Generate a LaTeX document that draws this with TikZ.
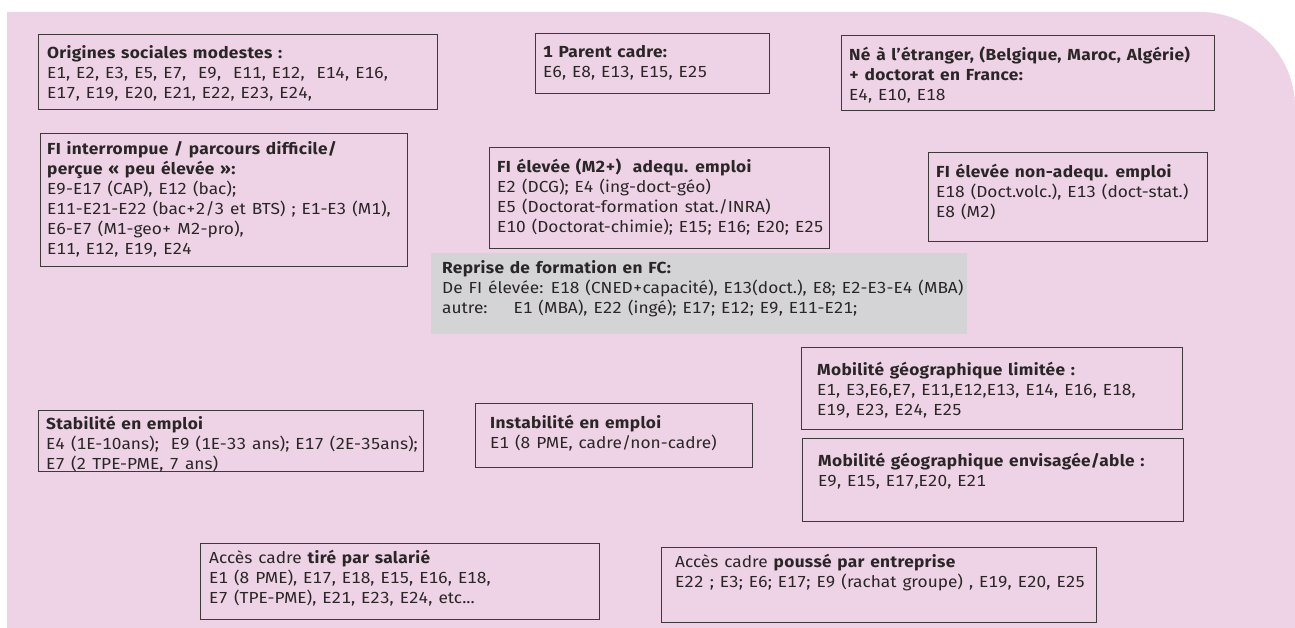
\documentclass[tikz,border=0pt]{standalone}
\usepackage{fontspec}
\setmainfont{Fira Sans}[FakeStretch=1.08,Numbers=Monospaced,WordSpace=1.3,BoldFeatures={LetterSpace=2}]
\definecolor{pinkbg}{HTML}{EDD3E5}
\definecolor{greybg}{HTML}{D4D4D6}
\definecolor{boxline}{HTML}{3E3A3C}
\definecolor{ink}{HTML}{2A2627}

\begin{document}
\begin{tikzpicture}[x=1pt,y=-1pt]
	\tikzstyle{frame}=[draw=boxline,line width=1.2pt,anchor=north west,inner sep=0pt]
	\tikzstyle{greyframe}=[frame,draw=none,fill=greybg]
	\tikzstyle{boxtext}=[anchor=north west,inner sep=0pt,align=left,text=ink,font=\fontsize{16}{20}\selectfont]
	\useasboundingbox (0,0) rectangle (1295,628);
	\fill[pinkbg] (7,628) -- (7,12) -- (1200,12) .. controls (1252,12) and (1295,55) .. (1295,107) -- (1295,628) -- cycle;
	% origines et parcours
	\node[frame,minimum width=399pt,minimum height=75pt] (origines) at (38,34) {};
	\node[boxtext] (origines-t) at ([xshift=9pt,yshift=-11pt]origines.north west) {\textbf{Origines sociales modestes :}\\E1, E2, E3, E5, E7,\ \ E9,\ \ E11, E12,\ \ E14, E16,\\E17, E19, E20, E21, E22, E23, E24,};
	\node[frame,minimum width=234pt,minimum height=60pt] (parent) at (535,33) {};
	\node[boxtext] (parent-t) at ([xshift=8pt,yshift=-12pt]parent.north west) {\textbf{1 Parent cadre:}\\E6, E8, E13, E15, E25};
	\node[frame,minimum width=373pt,minimum height=75pt] (etranger) at (841,35) {};
	\node[boxtext] (etranger-t) at ([xshift=8pt,yshift=-12pt]etranger.north west) {\textbf{Né à l’étranger, (Belgique, Maroc, Algérie)}\\\textbf{+ doctorat en France:}\\E4, E10, E18};
	\node[frame,minimum width=367pt,minimum height=133pt] (fiint) at (40,133) {};
	\node[boxtext] (fiint-t) at ([xshift=7pt,yshift=-8pt]fiint.north west) {\textbf{FI interrompue / parcours difficile/}\\\textbf{perçue « peu élevée »:}\\E9-E17 (CAP), E12 (bac);\\E11-E21-E22 (bac+2/3 et BTS) ; E1-E3 (M1),\\E6-E7 (M1-geo+ M2-pro),\\E11, E12, E19, E24};
	\node[frame,minimum width=340pt,minimum height=101pt] (fiadequ) at (489,147) {};
	\node[boxtext] (fiadequ-t) at ([xshift=8pt,yshift=-12pt]fiadequ.north west) {\textbf{FI élevée (M2+)\ \ adequ. emploi}\\E2 (DCG); E4 (ing-doct-géo)\\E5 (Doctorat-formation stat./INRA)\\E10 (Doctorat-chimie); E15; E16; E20; E25};
	\node[frame,minimum width=279pt,minimum height=89pt] (finonadequ) at (928,152) {};
	\node[boxtext] (finonadequ-t) at ([xshift=8pt,yshift=-12pt]finonadequ.north west) {\textbf{FI élevée non-adequ. emploi}\\E18 (Doct.volc.), E13 (doct-stat.)\\E8 (M2)};
	\node[greyframe,minimum width=536pt,minimum height=81pt] (reprise) at (430,252) {};
	\node[boxtext] (reprise-t) at ([xshift=12pt,yshift=-8pt]reprise.north west) {\textbf{Reprise de formation en FC:}\\De FI élevée: E18 (CNED+capacité), E13(doct.), E8; E2-E3-E4 (MBA)\\autre:\hspace{26pt}E1 (MBA), E22 (ingé); E17; E12; E9, E11-E21;};
	% mobilite et emploi
	\node[frame,minimum width=381pt,minimum height=82pt] (mobilim) at (801,347) {};
	\node[boxtext] (mobilim-t) at ([xshift=16pt,yshift=-15pt]mobilim.north west) {\textbf{Mobilité géographique limitée :}\\E1, E3,E6,E7, E11,E12,E13, E14, E16, E18,\\E19, E23, E24, E25};
	\node[frame,minimum width=381pt,minimum height=83pt] (mobienv) at (802,438) {};
	\node[boxtext] (mobienv-t) at ([xshift=16pt,yshift=-15pt]mobienv.north west) {\textbf{Mobilité géographique envisagée/able :}\\E9, E15, E17,E20, E21};
	\node[frame,minimum width=385pt,minimum height=61pt] (stab) at (38,410) {};
	\node[boxtext] (stab-t) at ([xshift=8pt,yshift=-6pt]stab.north west) {\textbf{Stabilité en emploi}\\E4 (1E-10ans);\ \ E9 (1E-33 ans); E17 (2E-35ans);\\E7 (2 TPE-PME, 7 ans)};
	\node[frame,minimum width=277pt,minimum height=64pt] (instab) at (475,403) {};
	\node[boxtext] (instab-t) at ([xshift=15pt,yshift=-12pt]instab.north west) {\textbf{Instabilité en emploi}\\E1 (8 PME, cadre/non-cadre)};
	% acces cadre
	\node[frame,minimum width=399pt,minimum height=76pt] (tire) at (200,543) {};
	\node[boxtext] (tire-t) at ([xshift=9pt,yshift=-7pt]tire.north west) {Accès cadre \textbf{tiré par salarié}\\E1 (8 PME), E17, E18, E15, E16, E18,\\E7 (TPE-PME), E21, E23, E24, etc...};
	\node[frame,minimum width=435pt,minimum height=75pt] (pousse) at (661,547) {};
	\node[boxtext] (pousse-t) at ([xshift=14pt,yshift=-7pt]pousse.north west) {Accès cadre \textbf{poussé par entreprise}\\E22 ; E3; E6; E17; E9 (rachat groupe) , E19, E20, E25};
\end{tikzpicture}
\end{document}
